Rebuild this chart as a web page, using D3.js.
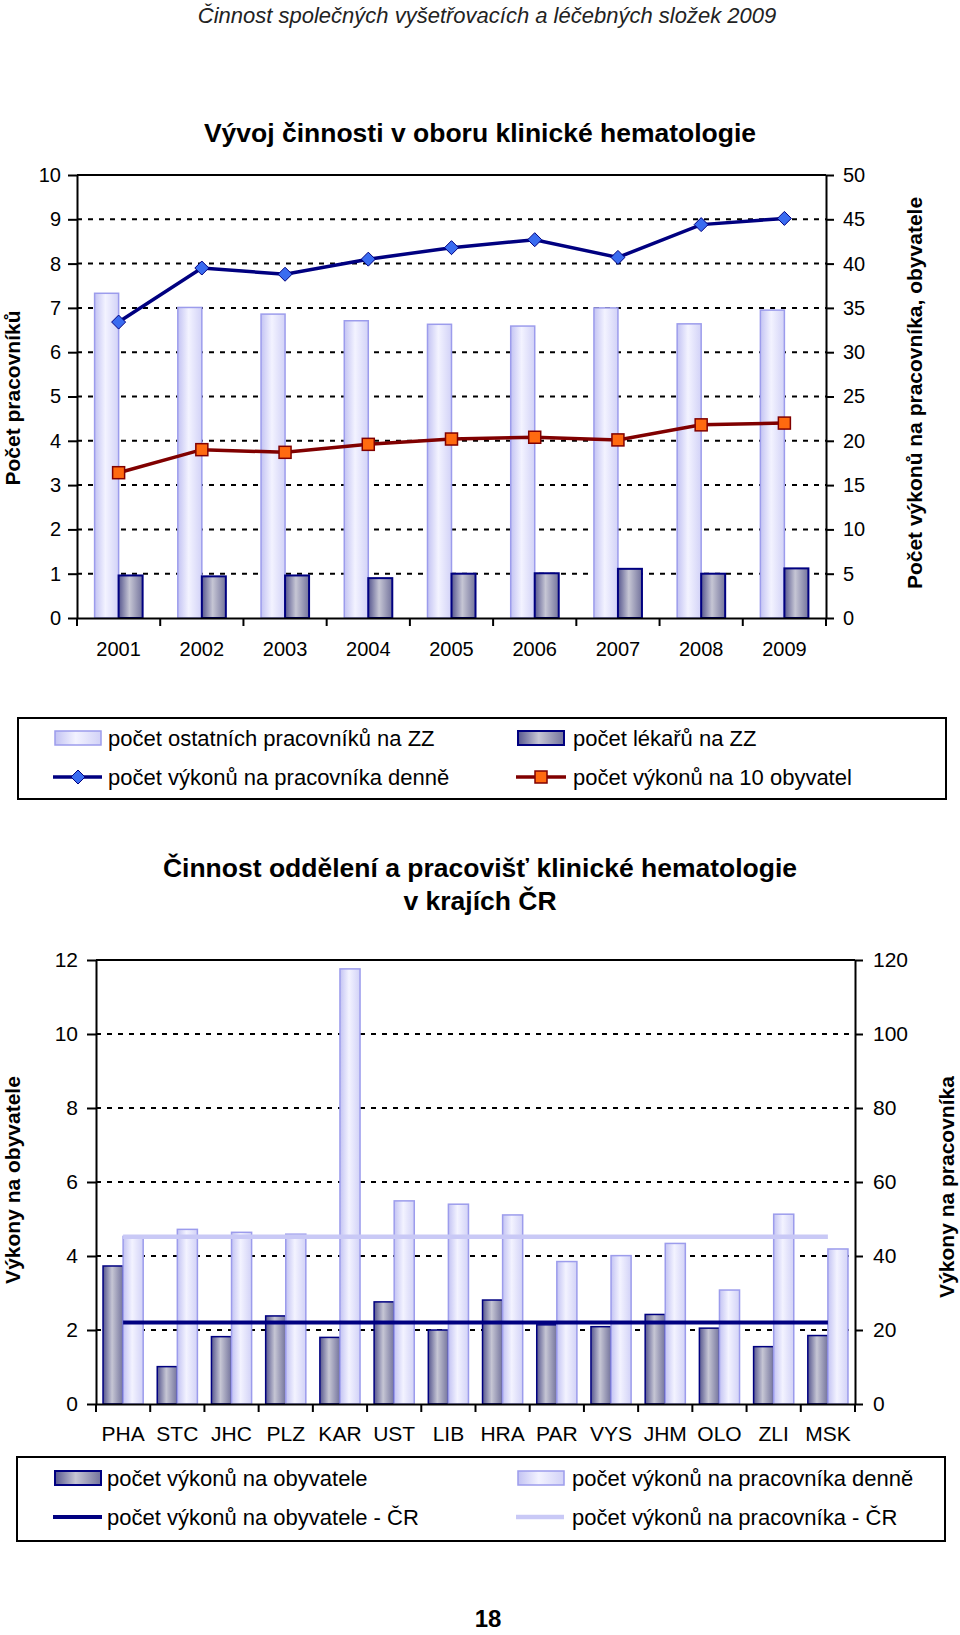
<!DOCTYPE html>
<html><head><meta charset="utf-8">
<script src="https://cdnjs.cloudflare.com/ajax/libs/d3/7.8.5/d3.min.js"></script>
<style>
body{margin:0;background:#fff;}
svg{display:block;font-family:"Liberation Sans",Arial,sans-serif;}
</style></head><body>
<svg id="c" width="960" height="1635"></svg>
<script>
// ---------- DATA ----------
const years = ["2001","2002","2003","2004","2005","2006","2007","2008","2009"];
const ostatniPracovnici = [7.33,7.01,6.86,6.71,6.63,6.59,7.00,6.64,6.95];
const lekari = [0.96,0.94,0.96,0.90,1.00,1.01,1.11,1.00,1.12];
const vykonyNaPracovnikaDenne = [33.4,39.5,38.8,40.5,41.8,42.7,40.7,44.4,45.1];
const vykonyNa10Obyvatel = [16.4,19.0,18.7,19.6,20.2,20.4,20.1,21.8,22.0];
const leftTicks1 = [0,1,2,3,4,5,6,7,8,9,10];
const rightTicks1 = [0,5,10,15,20,25,30,35,40,45,50];

const kraje = ["PHA","STC","JHC","PLZ","KAR","UST","LIB","HRA","PAR","VYS","JHM","OLO","ZLI","MSK"];
const vykonyNaObyvatele = [3.73,1.01,1.82,2.38,1.80,2.76,2.00,2.81,2.14,2.09,2.42,2.05,1.55,1.85];
const vykonyNaPracovnika = [45.3,47.2,46.4,45.9,117.6,54.9,54.0,51.1,38.5,40.1,43.4,30.8,51.3,41.9];
const crNaObyvatele = 2.20;
const crNaPracovnika = 45.2;
const leftTicks2 = [0,2,4,6,8,10,12];
const rightTicks2 = [0,20,40,60,80,100,120];

// ---------- SETUP ----------
const svg = d3.select("#c");
const defs = svg.append("defs");
function grad(id, stops){
  const g = defs.append("linearGradient").attr("id",id)
    .attr("x1","0").attr("x2","1").attr("y1","0").attr("y2","0");
  stops.forEach(s=>g.append("stop").attr("offset",s[0]).attr("stop-color",s[1]));
}
grad("gLight",[[0,"#c3c3f3"],[0.45,"#f3f3ff"],[1,"#d2d2f7"]]);
grad("gDark",[[0,"#56568e"],[0.45,"#c6c6d4"],[1,"#73739c"]]);
const LIGHT_STROKE = "#9c9cec";
const DARK_STROKE = "#000080";

svg.append("text").attr("x",487).attr("y",23).attr("text-anchor","middle")
  .attr("font-style","italic").attr("font-size",22).attr("fill","#222")
  .text("Činnost společných vyšetřovacích a léčebných složek 2009");

function styleAxis(g, fs){
  g.select(".domain").attr("stroke","#000").attr("stroke-width",2);
  g.selectAll(".tick line").attr("stroke","#000").attr("stroke-width",2);
  g.selectAll(".tick text").attr("font-size",fs).attr("fill","#000")
    .attr("font-family","Liberation Sans, Arial, sans-serif");
}

// ---------- CHART 1 ----------
const c1 = {left:77,right:826,top:175,bottom:618};
svg.append("text").attr("x",480).attr("y",142).attr("text-anchor","middle")
  .attr("font-weight","bold").attr("font-size",26.5)
  .text("Vývoj činnosti v oboru klinické hematologie");

const x1 = d3.scaleBand().domain(years).range([c1.left,c1.right]);
const xs1 = d3.scaleBand().domain(["ost","lek"]).range([0,x1.bandwidth()]).paddingInner(0).paddingOuter(0.733);
const yL1 = d3.scaleLinear().domain([0,10]).range([c1.bottom,c1.top]);
const yR1 = d3.scaleLinear().domain([0,50]).range([c1.bottom,c1.top]);

const g1 = svg.append("g");
g1.selectAll("line.grid").data(leftTicks1.filter(t=>t>0 && t<10)).join("line")
  .attr("x1",c1.left).attr("x2",c1.right).attr("y1",d=>yL1(d)).attr("y2",d=>yL1(d))
  .attr("stroke","#000").attr("stroke-width",2).attr("stroke-dasharray","5,6");
g1.append("line").attr("x1",c1.left).attr("x2",c1.right).attr("y1",yL1(10)).attr("y2",yL1(10))
  .attr("stroke","#000").attr("stroke-width",2);

g1.selectAll("rect.ost").data(years).join("rect")
  .attr("x",(d)=>x1(d)+xs1("ost")).attr("width",xs1.bandwidth())
  .attr("y",(d,i)=>yL1(ostatniPracovnici[i])).attr("height",(d,i)=>yL1(0)-yL1(ostatniPracovnici[i]))
  .attr("fill","url(#gLight)").attr("stroke",LIGHT_STROKE).attr("stroke-width",1.5);
g1.selectAll("rect.lek").data(years).join("rect")
  .attr("x",(d)=>x1(d)+xs1("lek")).attr("width",xs1.bandwidth())
  .attr("y",(d,i)=>yL1(lekari[i])).attr("height",(d,i)=>yL1(0)-yL1(lekari[i]))
  .attr("fill","url(#gDark)").attr("stroke",DARK_STROKE).attr("stroke-width",2);

const ax1L = g1.append("g").attr("transform",`translate(${c1.left},0)`)
  .call(d3.axisLeft(yL1).tickValues(leftTicks1).tickSize(9).tickSizeOuter(0).tickPadding(7));
styleAxis(ax1L,20);
const ax1R = g1.append("g").attr("transform",`translate(${c1.right},0)`)
  .call(d3.axisRight(yR1).tickValues(rightTicks1).tickSize(8).tickSizeOuter(0).tickPadding(9));
styleAxis(ax1R,20);
const ax1B = g1.append("g").attr("transform",`translate(0,${c1.bottom})`)
  .call(d3.axisBottom(x1).tickSize(0).tickSizeOuter(0).tickPadding(24));
styleAxis(ax1B,20);
g1.selectAll("line.bt").data(years.map(d=>x1(d)).concat([c1.right])).join("line")
  .attr("x1",d=>d).attr("x2",d=>d).attr("y1",c1.bottom).attr("y2",c1.bottom+8)
  .attr("stroke","#000").attr("stroke-width",2);

const cx1 = d=>x1(d)+x1.bandwidth()/2;
const line1 = d3.line().x(d=>cx1(d[0])).y(d=>yR1(d[1]));
const blueData = years.map((y,i)=>[y,vykonyNaPracovnikaDenne[i]]);
const redData = years.map((y,i)=>[y,vykonyNa10Obyvatel[i]]);
g1.append("path").attr("d",line1(blueData)).attr("fill","none").attr("stroke","#000080").attr("stroke-width",3.5);
g1.append("path").attr("d",line1(redData)).attr("fill","none").attr("stroke","#800000").attr("stroke-width",3.5);
const diamond = "M0,-7L7,0L0,7L-7,0Z";
g1.selectAll("path.dm").data(blueData).join("path")
  .attr("d",diamond).attr("transform",d=>`translate(${cx1(d[0])},${yR1(d[1])})`)
  .attr("fill","#3a6cf0").attr("stroke","#000080").attr("stroke-width",1);
g1.selectAll("rect.sq").data(redData).join("rect")
  .attr("x",d=>cx1(d[0])-6).attr("y",d=>yR1(d[1])-6).attr("width",12).attr("height",12)
  .attr("fill","#ff6a10").attr("stroke","#800000").attr("stroke-width",1.5);

svg.append("text").attr("transform","translate(13,398) rotate(-90)").attr("text-anchor","middle")
  .attr("dy","0.35em").attr("font-weight","bold").attr("font-size",21).text("Počet pracovníků");
svg.append("text").attr("transform","translate(915,393) rotate(-90)").attr("text-anchor","middle")
  .attr("dy","0.35em").attr("font-weight","bold").attr("font-size",21).text("Počet výkonů na pracovníka, obyvatele");

// legend 1
const lg1 = svg.append("g");
lg1.append("rect").attr("x",18).attr("y",718).attr("width",928).attr("height",81)
  .attr("fill","#fff").attr("stroke","#000").attr("stroke-width",2);
function barSwatch(g,x,y,fill,stroke,sw){
  g.append("rect").attr("x",x).attr("y",y-7).attr("width",46).attr("height",14)
    .attr("fill",fill).attr("stroke",stroke).attr("stroke-width",sw);
}
function legText(g,x,y,t){
  g.append("text").attr("x",x).attr("y",y).attr("dy","0.35em").attr("font-size",22).text(t);
}
barSwatch(lg1,55,738,"url(#gLight)",LIGHT_STROKE,1.5);
legText(lg1,108,738,"počet ostatních pracovníků na ZZ");
barSwatch(lg1,518,738,"url(#gDark)",DARK_STROKE,2);
legText(lg1,573,738,"počet lékařů na ZZ");
lg1.append("line").attr("x1",53).attr("x2",102).attr("y1",777).attr("y2",777).attr("stroke","#000080").attr("stroke-width",3.5);
lg1.append("path").attr("d",diamond).attr("transform","translate(78,777)").attr("fill","#3a6cf0").attr("stroke","#000080");
legText(lg1,108,777,"počet výkonů na pracovníka denně");
lg1.append("line").attr("x1",516).attr("x2",566).attr("y1",777).attr("y2",777).attr("stroke","#800000").attr("stroke-width",3.5);
lg1.append("rect").attr("x",535).attr("y",771).attr("width",12).attr("height",12).attr("fill","#ff6a10").attr("stroke","#800000").attr("stroke-width",1.5);
legText(lg1,573,777,"počet výkonů na 10 obyvatel");

// ---------- CHART 2 ----------
const c2 = {left:96,right:855,top:960,bottom:1404};
svg.append("text").attr("x",480).attr("y",877).attr("text-anchor","middle")
  .attr("font-weight","bold").attr("font-size",26.5)
  .text("Činnost oddělení a pracovišť klinické hematologie");
svg.append("text").attr("x",480).attr("y",910).attr("text-anchor","middle")
  .attr("font-weight","bold").attr("font-size",26.5).text("v krajích ČR");

const x2 = d3.scaleBand().domain(kraje).range([c2.left,c2.right]);
const xs2 = d3.scaleBand().domain(["obyv","prac"]).range([0,x2.bandwidth()]).paddingInner(0).paddingOuter(0.35);
const yL2 = d3.scaleLinear().domain([0,12]).range([c2.bottom,c2.top]);
const yR2 = d3.scaleLinear().domain([0,120]).range([c2.bottom,c2.top]);
const g2 = svg.append("g");

g2.selectAll("line.grid").data(leftTicks2.filter(t=>t>0 && t<12)).join("line")
  .attr("x1",c2.left).attr("x2",c2.right).attr("y1",d=>yL2(d)).attr("y2",d=>yL2(d))
  .attr("stroke","#000").attr("stroke-width",2).attr("stroke-dasharray","5,6");
g2.append("line").attr("x1",c2.left).attr("x2",c2.right).attr("y1",yL2(12)).attr("y2",yL2(12))
  .attr("stroke","#000").attr("stroke-width",2);

g2.selectAll("rect.ob").data(kraje).join("rect")
  .attr("x",d=>x2(d)+xs2("obyv")).attr("width",xs2.bandwidth())
  .attr("y",(d,i)=>yL2(vykonyNaObyvatele[i])).attr("height",(d,i)=>yL2(0)-yL2(vykonyNaObyvatele[i]))
  .attr("fill","url(#gDark)").attr("stroke",DARK_STROKE).attr("stroke-width",1.5);
g2.selectAll("rect.pr").data(kraje).join("rect")
  .attr("x",d=>x2(d)+xs2("prac")).attr("width",xs2.bandwidth())
  .attr("y",(d,i)=>yR2(vykonyNaPracovnika[i])).attr("height",(d,i)=>yR2(0)-yR2(vykonyNaPracovnika[i]))
  .attr("fill","url(#gLight)").attr("stroke",LIGHT_STROKE).attr("stroke-width",1.5);

const ax2L = g2.append("g").attr("transform",`translate(${c2.left},0)`)
  .call(d3.axisLeft(yL2).tickValues(leftTicks2).tickSize(9).tickSizeOuter(0).tickPadding(9));
styleAxis(ax2L,21);
const ax2R = g2.append("g").attr("transform",`translate(${c2.right},0)`)
  .call(d3.axisRight(yR2).tickValues(rightTicks2).tickSize(8).tickSizeOuter(0).tickPadding(10));
styleAxis(ax2R,21);
const ax2B = g2.append("g").attr("transform",`translate(0,${c2.bottom})`)
  .call(d3.axisBottom(x2).tickSize(0).tickSizeOuter(0).tickPadding(22));
styleAxis(ax2B,21);
g2.selectAll("line.bt").data(kraje.map(d=>x2(d)).concat([c2.right])).join("line")
  .attr("x1",d=>d).attr("x2",d=>d).attr("y1",c2.bottom).attr("y2",c2.bottom+8)
  .attr("stroke","#000").attr("stroke-width",2);

const first = kraje[0], last = kraje[kraje.length-1];
const cx2 = d=>x2(d)+x2.bandwidth()/2;
g2.append("line").attr("x1",cx2(first)).attr("x2",cx2(last))
  .attr("y1",yR2(crNaPracovnika)).attr("y2",yR2(crNaPracovnika))
  .attr("stroke","#c9c9f6").attr("stroke-width",4.5);
g2.append("line").attr("x1",cx2(first)).attr("x2",cx2(last))
  .attr("y1",yL2(crNaObyvatele)).attr("y2",yL2(crNaObyvatele))
  .attr("stroke","#000080").attr("stroke-width",4);

svg.append("text").attr("transform","translate(13,1180) rotate(-90)").attr("text-anchor","middle")
  .attr("dy","0.35em").attr("font-weight","bold").attr("font-size",21).text("Výkony na obyvatele");
svg.append("text").attr("transform","translate(947,1187) rotate(-90)").attr("text-anchor","middle")
  .attr("dy","0.35em").attr("font-weight","bold").attr("font-size",21).text("Výkony na pracovníka");

// legend 2
const lg2 = svg.append("g");
lg2.append("rect").attr("x",17).attr("y",1457).attr("width",928).attr("height",84)
  .attr("fill","#fff").attr("stroke","#000").attr("stroke-width",2);
barSwatch(lg2,55,1478,"url(#gDark)",DARK_STROKE,2);
legText(lg2,107,1478,"počet výkonů na obyvatele");
barSwatch(lg2,518,1478,"url(#gLight)",LIGHT_STROKE,1.5);
legText(lg2,572,1478,"počet výkonů na pracovníka denně");
lg2.append("line").attr("x1",53).attr("x2",102).attr("y1",1517).attr("y2",1517).attr("stroke","#000080").attr("stroke-width",4);
legText(lg2,107,1517,"počet výkonů na obyvatele - ČR");
lg2.append("line").attr("x1",516).attr("x2",564).attr("y1",1517).attr("y2",1517).attr("stroke","#c9c9f6").attr("stroke-width",4.5);
legText(lg2,572,1517,"počet výkonů na pracovníka - ČR");

svg.append("text").attr("x",488).attr("y",1627).attr("text-anchor","middle")
  .attr("font-weight","bold").attr("font-size",24).text("18");
</script>
</body></html>
